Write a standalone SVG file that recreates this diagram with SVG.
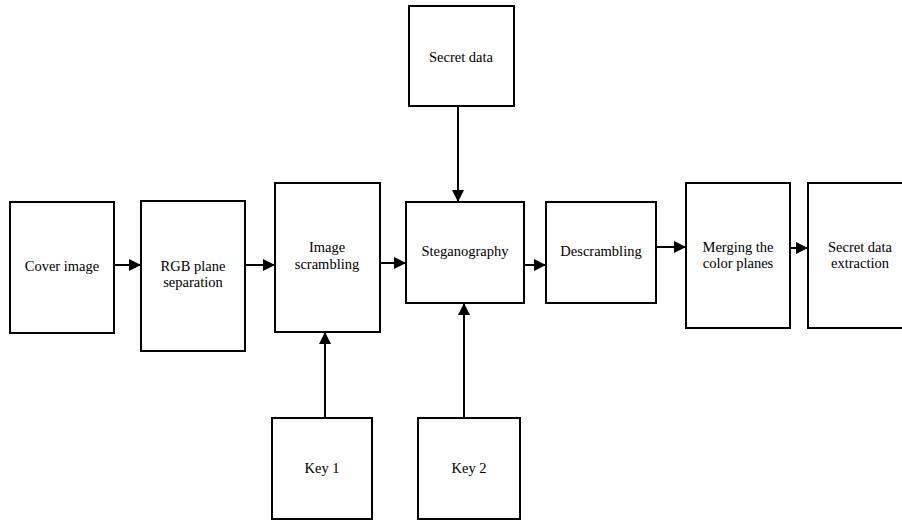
<svg xmlns="http://www.w3.org/2000/svg" width="902" height="522" viewBox="0 0 902 522">
<style>
.box{fill:#fff;stroke:#000;stroke-width:2}
.lbl{font-size:14.5px;fill:#000;text-anchor:middle}
.ln{stroke:#000;stroke-width:2;fill:none;marker-end:url(#ah)}
</style>
<defs>
<marker id="ah" viewBox="0 0 10 10" refX="10" refY="5" markerWidth="6" markerHeight="6" orient="auto" markerUnits="strokeWidth">
<path d="M0,0 L10,5 L0,10 z" fill="#000"/>
</marker>
</defs>
<rect width="902" height="522" fill="#fff"/>
<g id="connectors">
<line class="ln" x1="114" y1="265" x2="141" y2="265"/>
<line class="ln" x1="245" y1="265" x2="275" y2="265"/>
<line class="ln" x1="380" y1="263" x2="406" y2="263"/>
<line class="ln" x1="524" y1="265" x2="546" y2="265"/>
<line class="ln" x1="656" y1="247" x2="686" y2="247"/>
<line class="ln" x1="790" y1="248" x2="808" y2="248"/>
<line class="ln" x1="458" y1="106" x2="458" y2="202"/>
<line class="ln" x1="325" y1="418" x2="325" y2="332"/>
<line class="ln" x1="464" y1="418" x2="464" y2="303"/>
</g>
<g font-family="Liberation Serif, Times New Roman, serif">
<g id="cover"><rect class="box" x="10" y="202" width="104" height="131"/><text class="lbl" x="62" y="271">Cover image</text></g>
<g id="rgb"><rect class="box" x="141" y="201" width="104" height="150"/><text class="lbl" x="193" y="271">RGB plane</text><text class="lbl" x="193" y="287">separation</text></g>
<g id="scramble"><rect class="box" x="275" y="183" width="105" height="149"/><text class="lbl" x="327" y="252">Image</text><text class="lbl" x="327" y="269">scrambling</text></g>
<g id="steg"><rect class="box" x="406" y="202" width="118" height="101"/><text class="lbl" x="465" y="256">Steganography</text></g>
<g id="descramble"><rect class="box" x="546" y="202" width="110" height="101"/><text class="lbl" x="601" y="256">Descrambling</text></g>
<g id="merge"><rect class="box" x="686" y="183" width="104" height="145"/><text class="lbl" x="738" y="252">Merging the</text><text class="lbl" x="738" y="268">color planes</text></g>
<g id="extract"><rect class="box" x="808" y="183" width="104" height="145"/><text class="lbl" x="860" y="252">Secret data</text><text class="lbl" x="860" y="268">extraction</text></g>
<g id="secret"><rect class="box" x="409" y="6" width="105" height="100"/><text class="lbl" x="461" y="62">Secret data</text></g>
<g id="key1"><rect class="box" x="272" y="418" width="100" height="101"/><text class="lbl" x="322" y="473">Key 1</text></g>
<g id="key2"><rect class="box" x="418" y="418" width="102" height="101"/><text class="lbl" x="469" y="473">Key 2</text></g>
</g>
</svg>
